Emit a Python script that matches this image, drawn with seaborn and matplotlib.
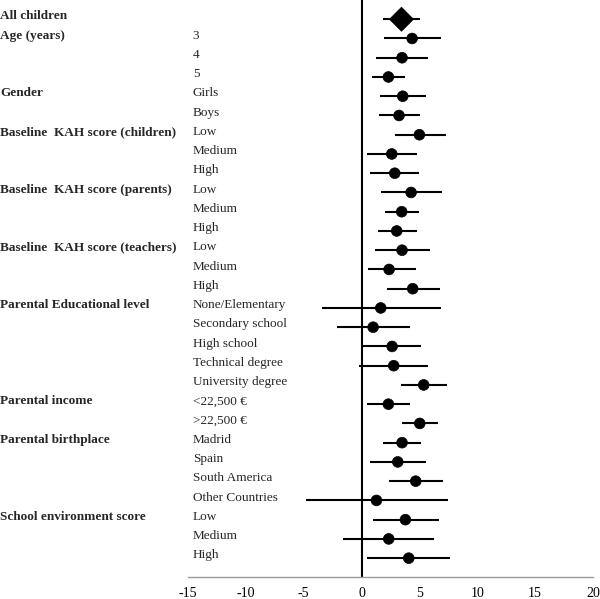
import pandas as pd
import matplotlib
matplotlib.use("Agg")
import matplotlib.pyplot as plt
import matplotlib.transforms as mtransforms
import seaborn as sns

# --- dati ---
gruppi = ["All children", "Age (years)", "Gender", "Baseline  KAH score (children)",
          "Baseline  KAH score (parents)", "Baseline  KAH score (teachers)",
          "Parental Educational level", "Parental income", "Parental birthplace",
          "School environment score"]
righe_gruppi = [0, 1, 4, 6, 9, 12, 15, 20, 22, 26]

categorie = ["", "3", "4", "5", "Girls", "Boys", "Low", "Medium", "High",
             "Low", "Medium", "High", "Low", "Medium", "High",
             "None/Elementary", "Secondary school", "High school", "Technical degree",
             "University degree", "<22,500 \u20ac", ">22,500 \u20ac", "Madrid", "Spain",
             "South America", "Other Countries", "Low", "Medium", "High"]

stima = [3.45, 4.37, 3.50, 2.32, 3.56, 3.24, 5.00, 2.61, 2.87,
         4.28, 3.47, 3.04, 3.50, 2.38, 4.42,
         1.66, 1.00, 2.64, 2.78, 5.37, 2.32, 5.03,
         3.50, 3.13, 4.68, 1.29, 3.79, 2.35, 4.08]
ci_basso = [1.87, 1.92, 1.29, 0.92, 1.58, 1.52, 2.90, 0.43, 0.69,
            1.64, 2.01, 1.41, 1.12, 0.54, 2.18,
            -3.42, -2.13, 0.03, -0.26, 3.42, 0.49, 3.47,
            1.87, 0.72, 2.35, -4.83, 0.95, -1.58, 0.49]
ci_alto = [5.03, 6.84, 5.72, 3.79, 5.57, 5.03, 7.33, 4.83, 5.00,
           6.98, 5.00, 4.77, 5.95, 4.74, 6.75,
           6.86, 4.16, 5.17, 5.74, 7.38, 4.22, 6.63,
           5.17, 5.54, 7.07, 7.44, 6.69, 6.29, 7.61]

xticks = [-15, -10, -5, 0, 5, 10, 15, 20]

df = pd.DataFrame({"riga": range(len(stima)), "stima": stima,
                   "lo": ci_basso, "hi": ci_alto, "cat": categorie})
df["tipo"] = ["totale"] + ["sottogruppo"] * (len(df) - 1)

sns.set_style("white")
plt.rcParams["font.family"] = ["Liberation Serif", "DejaVu Serif"]

fig = plt.figure(figsize=(6.0, 5.99), dpi=100)
ax = fig.add_axes([0.3133, 0.0367, 0.675, 0.9633])

# intervalli di confidenza
ax.hlines(df["riga"], df["lo"], df["hi"], color="black", linewidth=1.5, zorder=2)
ax.axvline(0, color="black", linewidth=1.5, zorder=1)

sns.scatterplot(data=df, x="stima", y="riga", style="tipo",
                markers={"totale": "D", "sottogruppo": "o"},
                size="tipo", sizes={"totale": 150, "sottogruppo": 60},
                color="black", edgecolor="black", linewidth=0.5,
                legend=False, ax=ax, zorder=3)

ax.set_xlim(-15, 20)
ax.set_ylim(28.98, -1.0)
ax.set_xticks(xticks)
ax.set_xticklabels([str(t) for t in xticks])
ax.set_yticks([])
ax.set_xlabel("")
ax.set_ylabel("")

for s in ["top", "right", "left"]:
    ax.spines[s].set_visible(False)
ax.spines["bottom"].set_color("#9a9a9a")
ax.spines["bottom"].set_linewidth(1.0)
ax.tick_params(axis="x", direction="in", length=3, color="#9a9a9a",
               labelsize=10, pad=7, labelcolor="black")

trans = mtransforms.blended_transform_factory(ax.transAxes, ax.transData)
for g, r in zip(gruppi, righe_gruppi):
    ax.text(-0.464, r - 0.15, g, transform=trans, ha="left", va="center",
            fontsize=9.5, fontweight="bold")
for r, c in enumerate(categorie):
    if c:
        ax.text(0.012, r - 0.15, c, transform=trans, ha="left", va="center",
                fontsize=9.5)

fig.savefig("out.png", dpi=100)
